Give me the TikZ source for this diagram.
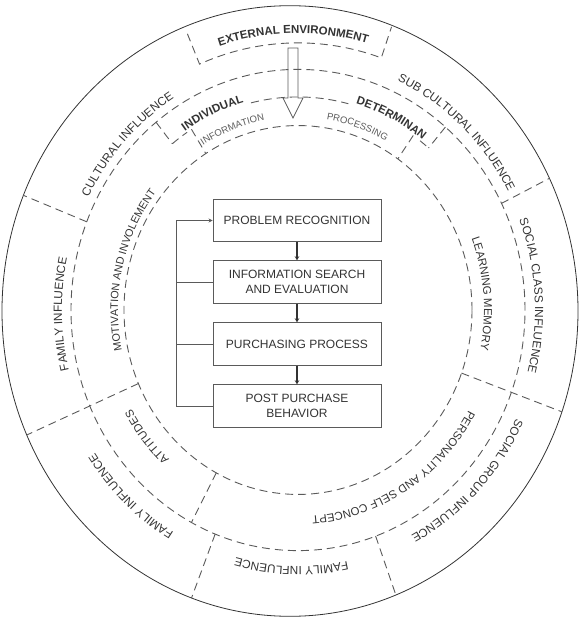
\documentclass[tikz,border=0pt]{standalone}
\usepackage{fontspec}
\setmainfont{Liberation Sans}
\usetikzlibrary{decorations.text, arrows.meta}

\definecolor{ink}{HTML}{333333}
\definecolor{rule}{HTML}{5A5A5A}
\definecolor{soft}{HTML}{5C5C5C}

\tikzset{
  ring/.style={draw=rule, line width=0.9pt, dash pattern=on 8pt off 5pt},
  rim/.style={draw=ink, line width=0.8pt},
  procbox/.style={draw=rule, line width=0.9pt, minimum width=168pt,
    minimum height=42.5pt, inner sep=0pt, align=center,
    font=\fontsize{12}{14.3}\selectfont, text=ink},
  flow/.style={draw=ink, line width=1.6pt, -{Stealth[length=4pt,width=4.5pt]}},
  loopline/.style={draw=rule, line width=0.9pt},
  loopin/.style={loopline, -{Stealth[length=4pt,width=4pt]}},
  hollowarrow/.style={draw=rule, line width=0.8pt, line join=miter},
}

% text set along a clockwise elliptical arc centred at angle #2,
% baseline radius #3 (vertical radius stretched by 1.06)
\newcommand\ringlabel[5][ink]{%
  \pgfmathsetmacro\ry{1.06*#3}%
  \pgfmathsetmacro\sa{#2+75}\pgfmathsetmacro\ea{#2-75}%
  \path[decorate,decoration={text along path,text align=center,
      text color=#1,text={|#4|#5}}]
    (\sa:#3pt and \ry pt) arc[start angle=\sa, end angle=\ea,
      x radius=#3pt, y radius=\ry pt];}
\newcommand\ringarc[3]{%
  \pgfmathsetmacro\ry{1.06*#3}%
  \draw[ring] (#1:#3pt and \ry pt) arc[start angle=#1, end angle=#2,
      x radius=#3pt, y radius=\ry pt];}
\newcommand\spoke[3]{%
  \pgfmathsetmacro\rya{1.06*#2}\pgfmathsetmacro\ryb{1.06*#3}%
  \draw[ring] (#1:#2pt and \rya pt) -- (#1:#3pt and \ryb pt);}

\newcommand\outerfont{\fontsize{11.8}{13}\selectfont}
\newcommand\innerfont{\fontsize{10.8}{12}\selectfont}
\newcommand\midfont{\fontsize{11.4}{13}\selectfont}
\newcommand\headfont{\fontsize{11.5}{13}\selectfont\bfseries}
\newcommand\smallfont{\fontsize{9.5}{11}\selectfont}

\begin{document}
\begin{tikzpicture}[x=1pt, y=1pt]
\useasboundingbox (-298,-311) rectangle (282,310);

% outer boundary
\draw[rim] (-8,-1) ellipse [x radius=288pt, y radius=305.3pt];

% concentric dashed rings
\draw[ring] (0,0) ellipse [x radius=227pt, y radius=240.62pt];
\draw[ring] (0,0) ellipse [x radius=174pt, y radius=184.44pt];

% radial dividers
\begin{scope}
  \clip (-8,-1) ellipse [x radius=288pt, y radius=305.3pt];
  \spoke{158.5}{227}{310}
  \spoke{203.5}{174}{310}
  \spoke{248.6}{227}{310}
  \spoke{290}{227}{310}
  \spoke{340}{174}{310}
  \spoke{26.3}{227}{310}
\end{scope}
\spoke{242}{174}{227}

% external environment bracket
\draw[ring] (113:283pt and 300pt) -- (113:252pt and 267.12pt)
  arc[start angle=113, end angle=70.7, x radius=252pt, y radius=267.12pt]
  -- (70.7:283pt and 300pt);

% individual determinant bracket
\spoke{128.7}{227}{201}
\spoke{49.5}{227}{201}
\ringarc{128.7}{123.5}{201}
\ringarc{103.5}{75.5}{201}
\ringarc{52.6}{49.5}{201}
% information processing bracket
\spoke{122}{201}{174}
\spoke{55}{201}{174}

% hollow arrow from the environment inwards
\draw[hollowarrow] (-10,262) -- (0,262) -- (0,212) -- (5,212) -- (-5,192)
  -- (-15,212) -- (-10,212) -- cycle;

% outer ring labels
\ringlabel{136}{235}{\outerfont}{CULTURAL INFLUENCE}
\ringlabel{48}{238}{\outerfont}{SUB CULTURAL INFLUENCE}
\ringlabel{3.5}{237}{\outerfont}{SOCIAL CLASS INFLUENCE}
\ringlabel{-45}{241}{\outerfont}{SOCIAL GROUP INFLUENCE}
\ringlabel{-91.5}{242}{\outerfont}{FAMILY INFLUENCE}
\ringlabel{-132}{244}{\outerfont}{FAMILY INFLUENCE}
\ringlabel{181}{236}{\outerfont}{FAMILY INFLUENCE}
\ringlabel{91}{261}{\headfont}{EXTERNAL ENVIRONMENT}

% individual determinant labels
\ringlabel{113.5}{203}{\headfont}{INDIVIDUAL}
\ringlabel{64}{203}{\headfont}{DETERMINAN}
\ringlabel[soft]{110}{182}{\smallfont}{INFORMATION}
\ringlabel[soft]{72}{182}{\smallfont}{PROCESSING}
\ringlabel{166.5}{180}{\innerfont}{MOTIVATION AND INVOLEMENT}
\ringlabel{5}{186}{\midfont}{LEARNING MEMORY}
\ringlabel{-58.5}{195}{\midfont}{PERSONALITY AND SELF CONCEPT}
\ringlabel{-140}{191}{\midfont}{ATTITUDES}

% decision process
\node[procbox] (rec) at (-1,89.5) {PROBLEM RECOGNITION};
\node[procbox] (srch) at (-1,28) {INFORMATION SEARCH\\AND EVALUATION};
\node[procbox] (buy) at (-1,-34) {PURCHASING PROCESS};
\node[procbox] (post) at (-1,-96) {POST PURCHASE\\BEHAVIOR};

\draw[flow] (rec) -- (srch);
\draw[flow] (srch) -- (buy);
\draw[flow] (buy) -- (post);

% feedback loop
\coordinate (loop) at (-122,0);
\draw[loopin] (post.west) -- (post.west -| loop) -- (rec.west -| loop) -- (rec.west);
\draw[loopline] (srch.west) -- (srch.west -| loop);
\draw[loopline] (buy.west) -- (buy.west -| loop);
\end{tikzpicture}
\end{document}
